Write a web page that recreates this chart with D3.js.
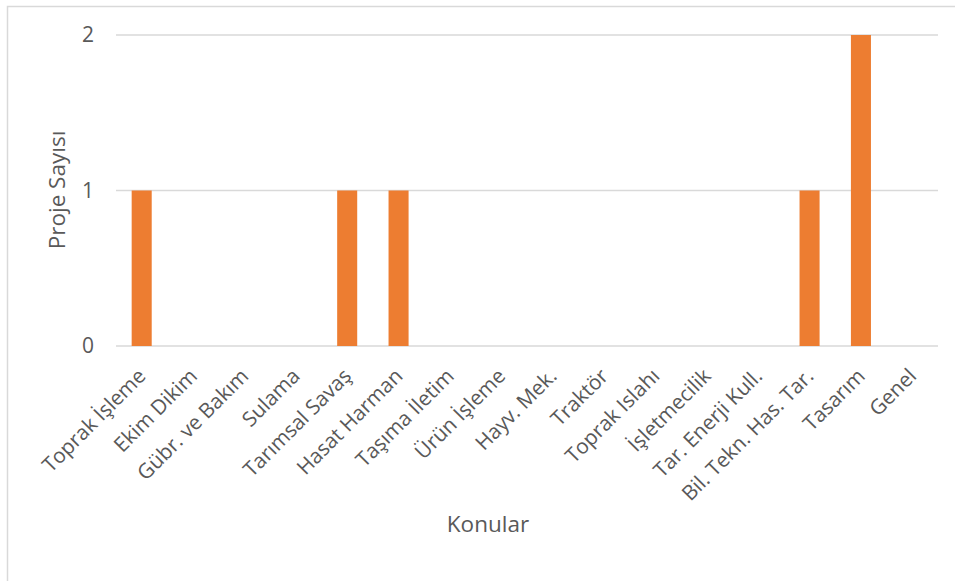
<!DOCTYPE html>
<html>
<head>
<meta charset="utf-8">
<script src="https://cdn.jsdelivr.net/npm/d3@7"></script>
<style>
  html, body { margin: 0; padding: 0; background: #fff; }
  svg { display: block; font-family: "Open Sans", "Noto Sans", sans-serif; }
</style>
</head>
<body>
<svg id="chart" width="955" height="581"></svg>
<script>
// Topics and project counts per topic
const categories = [
  "Toprak İşleme", "Ekim Dikim", "Gübr. ve Bakım", "Sulama", "Tarımsal Savaş",
  "Hasat Harman", "Taşıma İletim", "Ürün İşleme", "Hayv. Mek.", "Traktör",
  "Toprak Islahı", "İşletmecilik", "Tar. Enerji Kull.", "Bil. Tekn. Has. Tar.",
  "Tasarım", "Genel"
];
const projectCounts = [1, 0, 0, 0, 1, 1, 0, 0, 0, 0, 0, 0, 0, 1, 2, 0];
const yTicks = [0, 1, 2];
const xTitle = "Konular";
const yTitle = "Proje Sayısı";

const svg = d3.select("#chart");
const textColor = "#595959";
const gridColor = "#d9d9d9";
const barColor = "#ED7D31";

// Outer chart frame
svg.append("rect")
  .attr("x", 7.5).attr("y", 6.5)
  .attr("width", 1000).attr("height", 1000)
  .attr("fill", "none")
  .attr("stroke", "#d9d9d9")
  .attr("stroke-width", 1.5);

const plot = { left: 116, right: 938, top: 35, bottom: 346 };

const x = d3.scaleBand()
  .domain(categories)
  .range([plot.left, plot.right])
  .paddingInner(0.61)
  .paddingOuter(0.305);

const y = d3.scaleLinear()
  .domain([0, 2])
  .range([plot.bottom, plot.top]);

// Horizontal gridlines
svg.append("g")
  .selectAll("line")
  .data(yTicks)
  .join("line")
  .attr("x1", plot.left).attr("x2", plot.right)
  .attr("y1", d => y(d)).attr("y2", d => y(d))
  .attr("stroke", gridColor)
  .attr("stroke-width", 1.6);

// Y axis labels
const yAxis = d3.axisLeft(y).tickValues(yTicks).tickSize(0).tickPadding(0).tickFormat(d3.format("d"));
svg.append("g")
  .attr("transform", `translate(${plot.left - 22},0)`)
  .call(yAxis)
  .call(g => g.select(".domain").remove())
  .call(g => g.selectAll("text")
    .attr("fill", textColor)
    .attr("font-size", 21)
    .attr("font-family", "'Open Sans', sans-serif"));

// Bars
svg.append("g")
  .selectAll("rect")
  .data(categories.map((c, i) => ({ c, v: projectCounts[i] })).filter(d => d.v > 0))
  .join("rect")
  .attr("x", d => x(d.c))
  .attr("y", d => y(d.v))
  .attr("width", x.bandwidth())
  .attr("height", d => y(0) - y(d.v))
  .attr("fill", barColor);

// Rotated category labels
const cx = d => x(d) + x.bandwidth() / 2;
svg.append("g")
  .selectAll("text")
  .data(categories)
  .join("text")
  .attr("transform", d => `translate(${cx(d) - 5},${367}) rotate(-45)`)
  .attr("text-anchor", "end")
  .attr("dy", "0.71em")
  .attr("fill", textColor)
  .attr("font-size", 20.7)
  .text(d => d);

// Axis titles
svg.append("text")
  .attr("x", 488).attr("y", 532)
  .attr("text-anchor", "middle")
  .attr("fill", textColor)
  .attr("font-size", 22.5)
  .text(xTitle);

svg.append("text")
  .attr("transform", "translate(65,190) rotate(-90)")
  .attr("text-anchor", "middle")
  .attr("fill", textColor)
  .attr("font-size", 22.5)
  .text(yTitle);
</script>
</body>
</html>
